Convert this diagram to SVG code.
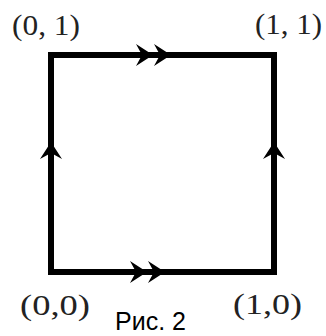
<svg xmlns="http://www.w3.org/2000/svg" width="326" height="336" viewBox="0 0 326 336">
<defs>
<style>
.lbl{font-family:"Liberation Serif","Times New Roman",serif;font-size:29px;fill:#222;}
.cap{font-family:"Liberation Sans",Arial,sans-serif;font-size:25px;fill:#000;}
.edge{stroke:#000;stroke-width:6;fill:none;stroke-linecap:square;}
.head{fill:#000;}
</style>
<path id="chev" class="head" d="M0,0 L-17,-11 L-11,0 L-17,11 Z"/>
</defs>
<rect width="326" height="336" fill="#fff"/>
<g id="connectors">
<path class="edge" d="M51,272 L51,55"/>
<path class="edge" d="M51,55 L274,55"/>
<path class="edge" d="M274,272 L274,55"/>
<path class="edge" d="M51,272 L274,272"/>
<use href="#chev" transform="translate(51,142) rotate(-90)"/>
<use href="#chev" transform="translate(274,142) rotate(-90)"/>
<use href="#chev" transform="translate(153,55)"/>
<use href="#chev" transform="translate(171,55)"/>
<use href="#chev" transform="translate(147,272)"/>
<use href="#chev" transform="translate(165,272)"/>
</g>
<g id="n01"><text class="lbl" x="12" y="35" textLength="68" lengthAdjust="spacingAndGlyphs">(0, 1)</text></g>
<g id="n11"><text class="lbl" x="255" y="34" textLength="67" lengthAdjust="spacingAndGlyphs">(1, 1)</text></g>
<g id="n00"><text class="lbl" x="20" y="315" textLength="70" lengthAdjust="spacingAndGlyphs">(0,0)</text></g>
<g id="n10"><text class="lbl" x="233" y="314" textLength="69" lengthAdjust="spacingAndGlyphs">(1,0)</text></g>
<g id="caption"><text class="cap" x="115" y="330">Рис. 2</text></g>
</svg>
